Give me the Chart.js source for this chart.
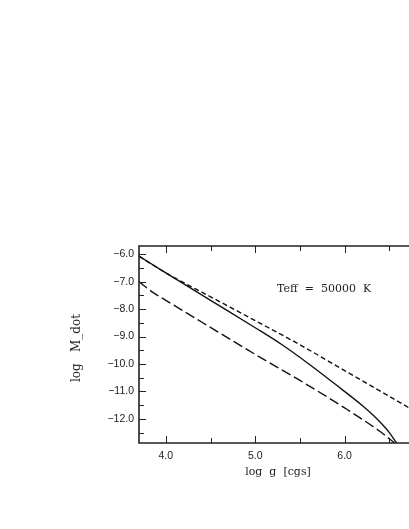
<!DOCTYPE html>
<html>
<head>
<meta charset="utf-8">
<script src="https://cdn.jsdelivr.net/npm/chart.js@4"></script>
<style>
  html, body { margin: 0; padding: 0; background: #fff; }
  canvas { display: block; }
</style>
</head>
<body>
<canvas id="chart" width="409" height="529"></canvas>
<script>
// data (log g, log M_dot)
const solidG = [3.70, 4.0, 4.5, 5.0, 5.3, 5.6, 5.9, 6.2, 6.32, 6.42, 6.5, 6.58];
const solidM = [-6.07, -6.68, -7.68, -8.68, -9.30, -10.0, -10.75, -11.52, -11.87, -12.2, -12.5, -12.88];
const shortG = [3.70, 4.0, 4.5, 5.0, 5.5, 6.0, 6.5, 6.72];
const shortM = [-6.07, -6.68, -7.55, -8.42, -9.3, -10.24, -11.18, -11.6];
const longG = [3.70, 3.85, 4.0, 4.4, 5.0, 5.5, 6.0, 6.4, 6.56];
const longM = [-7.0, -7.38, -7.68, -8.47, -9.65, -10.6, -11.6, -12.47, -12.88];

const xTicks = [4.0, 5.0, 6.0];
const xMinor = [4.5, 5.5, 6.5];
const yTicks = [-6.0, -7.0, -8.0, -9.0, -10.0, -11.0, -12.0];
const yMinor = [-6.5, -7.5, -8.5, -9.5, -10.5, -11.5, -12.5];

const xMin = 3.70, xMax = 6.72;
const yMin = -12.88, yMax = -5.70;

function pts(xs, ys) {
    return xs.map((x, i) => ({ x: x, y: ys[i] }));
}

// frame, inward ticks, labels
const framePlugin = {
    id: 'frame',
    afterDraw(chart) {
        const ctx = chart.ctx;
        const a = chart.chartArea;
        const xs = chart.scales.x, ys = chart.scales.y;
        ctx.save();
        ctx.strokeStyle = '#222';
        ctx.lineWidth = 1.6;
        ctx.beginPath();
        ctx.moveTo(a.right + 2, a.top);
        ctx.lineTo(a.left, a.top);
        ctx.lineTo(a.left, a.bottom);
        ctx.lineTo(a.right + 2, a.bottom);
        ctx.stroke();

        ctx.lineWidth = 1;
        ctx.beginPath();
        xTicks.forEach(v => {
            const px = Math.round(xs.getPixelForValue(v)) + 0.5;
            ctx.moveTo(px, a.bottom); ctx.lineTo(px, a.bottom - 7);
            ctx.moveTo(px, a.top); ctx.lineTo(px, a.top + 7);
        });
        xMinor.forEach(v => {
            const px = Math.round(xs.getPixelForValue(v)) + 0.5;
            ctx.moveTo(px, a.bottom); ctx.lineTo(px, a.bottom - 5);
            ctx.moveTo(px, a.top); ctx.lineTo(px, a.top + 5);
        });
        yTicks.forEach(v => {
            const py = Math.round(ys.getPixelForValue(v)) + 0.5;
            ctx.moveTo(a.left, py); ctx.lineTo(a.left + 7, py);
        });
        yMinor.forEach(v => {
            const py = Math.round(ys.getPixelForValue(v)) + 0.5;
            ctx.moveTo(a.left, py); ctx.lineTo(a.left + 5, py);
        });
        ctx.stroke();

        ctx.fillStyle = '#222';
        ctx.font = '10.5px "Liberation Sans", Arial, sans-serif';
        ctx.textAlign = 'center';
        ctx.textBaseline = 'middle';
        xTicks.forEach(v => {
            ctx.fillText(v.toFixed(1), xs.getPixelForValue(v), a.bottom + 13);
        });
        ctx.textAlign = 'right';
        yTicks.forEach(v => {
            ctx.fillText('\u2212' + Math.abs(v).toFixed(1), a.left - 5, ys.getPixelForValue(v));
        });

        ctx.font = '11px "DejaVu Serif", serif';
        ctx.textAlign = 'center';
        ctx.fillText('log  g  [cgs]', 278, 472);
        ctx.textAlign = 'left';
        ctx.fillText('Teff  =  50000  K', 277, 289);

        ctx.font = '12px "DejaVu Serif", serif';
        ctx.translate(77, 348);
        ctx.rotate(-Math.PI / 2);
        ctx.textAlign = 'center';
        ctx.fillText('log   M_dot', 0, 0);
        ctx.restore();
    }
};

const lineStyle = {
    showLine: true,
    borderColor: '#111',
    borderWidth: 1.4,
    pointRadius: 0,
    cubicInterpolationMode: 'monotone'
};

new Chart(document.getElementById('chart'), {
    type: 'scatter',
    data: {
        datasets: [
            Object.assign({ label: 'solid', data: pts(solidG, solidM) }, lineStyle),
            Object.assign({ label: 'short dash', data: pts(shortG, shortM), borderDash: [5, 3] }, lineStyle),
            Object.assign({ label: 'long dash', data: pts(longG, longM), borderDash: [10, 4] }, lineStyle)
        ]
    },
    options: {
        responsive: false,
        animation: false,
        layout: { padding: { left: 139, top: 246, right: 0, bottom: 86 } },
        plugins: { legend: { display: false }, tooltip: { enabled: false } },
        scales: {
            x: { type: 'linear', min: xMin, max: xMax, display: false },
            y: { type: 'linear', min: yMin, max: yMax, display: false }
        }
    },
    plugins: [framePlugin]
});
</script>
</body>
</html>
